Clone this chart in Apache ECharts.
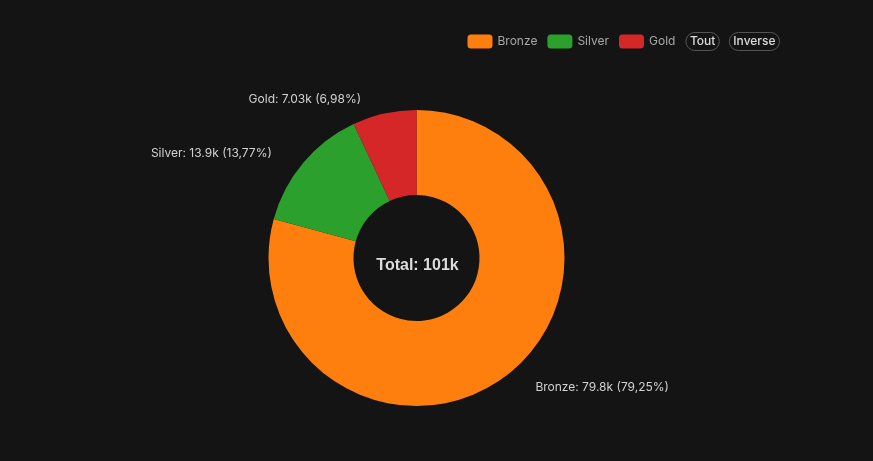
<!DOCTYPE html>
<html>
<head>
<meta charset="utf-8">
<style>
  html, body { margin: 0; padding: 0; background: #141414; }
  #chart { width: 873px; height: 461px; }
</style>
<script src="https://cdn.jsdelivr.net/npm/echarts@6/dist/echarts.min.js"></script>
</head>
<body>
<div id="chart"></div>
<script>
const categories = ["Bronze", "Silver", "Gold"];
const values = [79830, 13870, 7030];
const colors = ["#ff7f0e", "#2ca02c", "#d62728"];
const fontName = "Inter, 'Noto Sans', sans-serif";

const total = values.reduce((a, b) => a + b, 0);
const shortNum = n => (n / 1000).toPrecision(3).replace(/\.0+$/, "") + "k";

const chart = echarts.init(document.getElementById("chart"));
chart.setOption({
	backgroundColor: "#141414",
	animation: false,
	color: colors,
	title: {
		text: "Total: " + shortNum(total),
		left: 412.5,
		top: 261,
		textAlign: "center",
		textVerticalAlign: "middle",
		textStyle: { color: "#dcdcdc", fontSize: 16, fontWeight: "bold", fontFamily: "'Liberation Sans', Arial, sans-serif" }
	},
	legend: {
		top: 27,
		right: 88,
		itemWidth: 25,
		itemHeight: 14,
		itemGap: 10,
		textStyle: { color: "#a8a8a8", fontSize: 12, fontFamily: fontName },
		selector: [
			{ type: "all", title: "Tout" },
			{ type: "inverse", title: "Inverse" }
		],
		selectorLabel: {
			color: "#dcdcdc",
			fontSize: 12,
			fontWeight: 500,
			fontFamily: fontName,
			borderColor: "#555",
			borderWidth: 1,
			borderRadius: 10,
			padding: [3, 4]
		},
		selectorItemGap: 9,
		selectorButtonGap: 10
	},
	series: [{
		type: "pie",
		center: [416.5, 258],
		radius: [63, 148],
		startAngle: 90,
		clockwise: true,
		data: categories.map((name, i) => ({ name, value: values[i] })),
		label: {
			color: "#d2d2d2",
			fontSize: 12,
			fontFamily: fontName,
			formatter: p => p.name + ": " + shortNum(p.value) + " (" + (p.value / total * 100).toFixed(2).replace(".", ",") + "%)"
		},
		labelLine: { show: true, length: 15, length2: 15, lineStyle: { color: "transparent" } }
	}]
});
</script>
</body>
</html>
